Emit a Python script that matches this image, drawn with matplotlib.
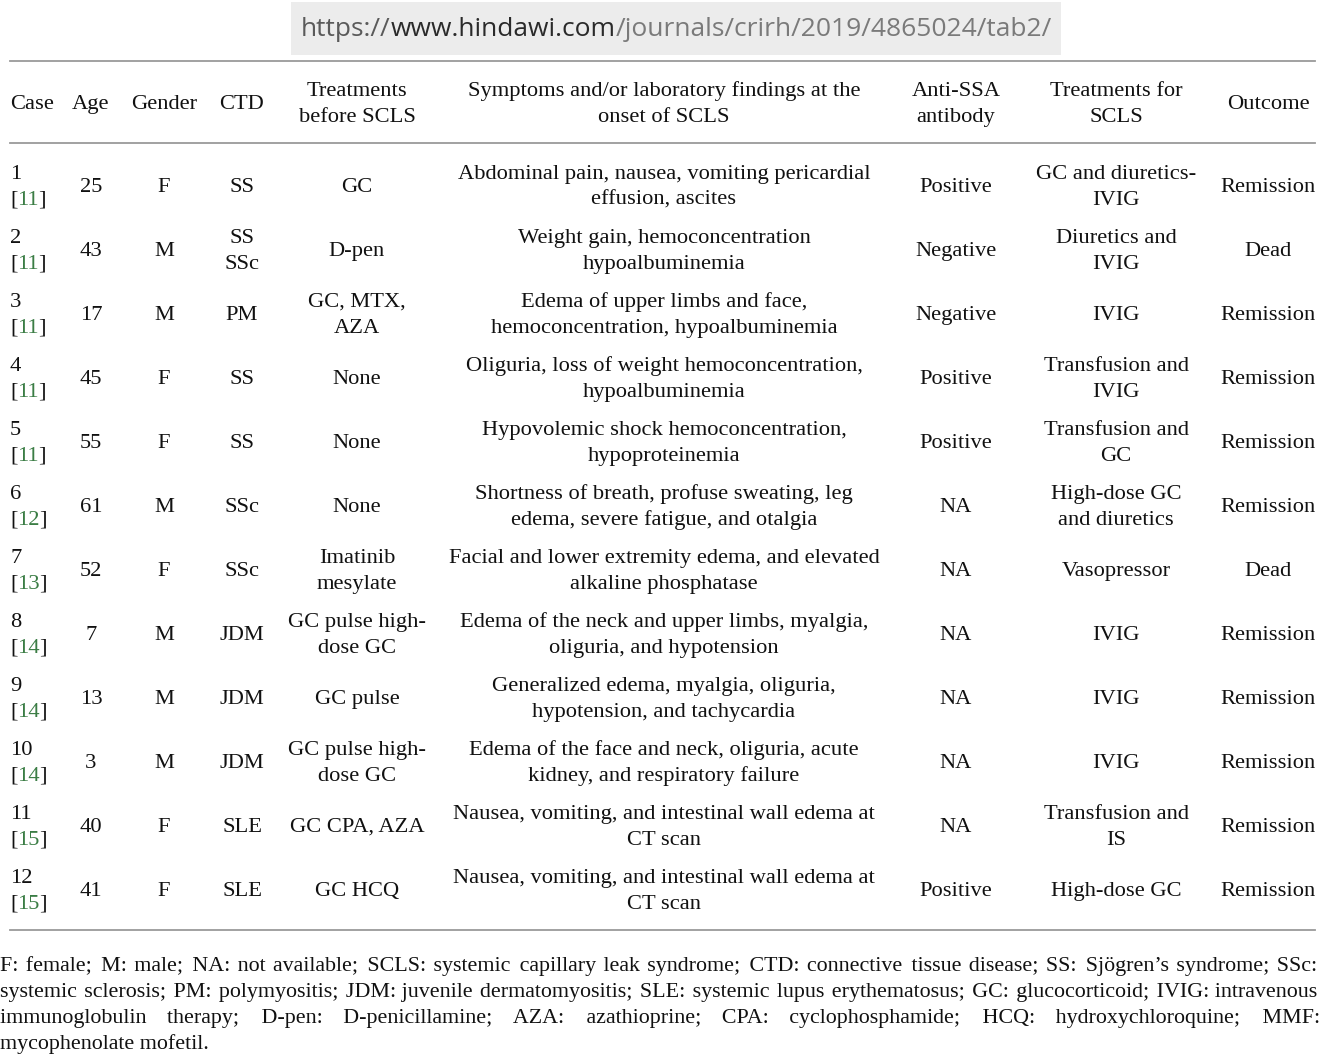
import matplotlib
matplotlib.use("Agg")
import matplotlib.pyplot as plt
from matplotlib.patches import Rectangle

# table data, one list per column
cases = ["1", "2", "3", "4", "5", "6", "7", "8", "9", "10", "11", "12"]
refs = ["11", "11", "11", "11", "11", "12", "13", "14", "14", "14", "15", "15"]
ages = ["25", "43", "17", "45", "55", "61", "52", "7", "13", "3", "40", "41"]
genders = ["F", "M", "M", "F", "F", "M", "F", "M", "M", "M", "F", "F"]
ctds = ["SS", "SS\nSSc", "PM", "SS", "SS", "SSc", "SSc", "JDM", "JDM", "JDM", "SLE", "SLE"]
treat_before = ["GC", "D-pen", "GC, MTX,\nAZA", "None", "None", "None", "Imatinib\nmesylate",
                "GC pulse high-\ndose GC", "GC pulse", "GC pulse high-\ndose GC", "GC CPA, AZA", "GC HCQ"]
symptoms = [
    "Abdominal pain, nausea, vomiting pericardial\neffusion, ascites",
    "Weight gain, hemoconcentration\nhypoalbuminemia",
    "Edema of upper limbs and face,\nhemoconcentration, hypoalbuminemia",
    "Oliguria, loss of weight hemoconcentration,\nhypoalbuminemia",
    "Hypovolemic shock hemoconcentration,\nhypoproteinemia",
    "Shortness of breath, profuse sweating, leg\nedema, severe fatigue, and otalgia",
    "Facial and lower extremity edema, and elevated\nalkaline phosphatase",
    "Edema of the neck and upper limbs, myalgia,\noliguria, and hypotension",
    "Generalized edema, myalgia, oliguria,\nhypotension, and tachycardia",
    "Edema of the face and neck, oliguria, acute\nkidney, and respiratory failure",
    "Nausea, vomiting, and intestinal wall edema at\nCT scan",
    "Nausea, vomiting, and intestinal wall edema at\nCT scan",
]
anti_ssa = ["Positive", "Negative", "Negative", "Positive", "Positive", "NA", "NA", "NA", "NA", "NA",
            "NA", "Positive"]
treat_for = ["GC and diuretics-\nIVIG", "Diuretics and\nIVIG", "IVIG", "Transfusion and\nIVIG",
             "Transfusion and\nGC", "High-dose GC\nand diuretics", "Vasopressor", "IVIG", "IVIG", "IVIG",
             "Transfusion and\nIS", "High-dose GC"]
outcomes = ["Remission", "Dead", "Remission", "Remission", "Remission", "Remission", "Dead",
            "Remission", "Remission", "Remission", "Remission", "Remission"]
headers = ["Case", "Age", "Gender", "CTD", "Treatments\nbefore SCLS",
           "Symptoms and/or laboratory findings at the\nonset of SCLS", "Anti-SSA\nantibody",
           "Treatments for\nSCLS", "Outcome"]
footnote = [
    "F: female; M: male; NA: not available; SCLS: systemic capillary leak syndrome; CTD: connective tissue disease; SS: Sjögren’s syndrome; SSc:",
    "systemic sclerosis; PM: polymyositis; JDM: juvenile dermatomyositis; SLE: systemic lupus erythematosus; GC: glucocorticoid; IVIG: intravenous",
    "immunoglobulin therapy; D-pen: D-penicillamine; AZA: azathioprine; CPA: cyclophosphamide; HCQ: hydroxychloroquine; MMF:",
    "mycophenolate mofetil.",
]
url_parts = [("https://", "#5a5a5a"), ("www.hindawi.com", "#2a2a2a"),
             ("/journals/crirh/2019/4865024/tab2/", "#7a7a7a")]

W, H = 1337, 1064
SERIF = ["Liberation Serif", "DejaVu Serif"]
FS = 16.2
FS_NOTE = 15.8
INK = "#111111"
LINK = "#3b7d45"
RULE = "#9a9a9a"
HAIR = "\u200a"
col_x = [10, 91, 164, 242, 357, 664, 956, 1116, 1268]
row_y0, row_dy, line_dy = 185, 64, 26
base = 7  # baseline sits this far below a line's centre

fig = plt.figure(figsize=(W / 100, H / 100), dpi=100)
ax = fig.add_axes([0, 0, 1, 1])
ax.set_xlim(0, W)
ax.set_ylim(H, 0)
ax.axis("off")
renderer = fig.canvas.get_renderer()


def put(x, y, s, ha="left", color=INK, fs=FS):
    return ax.text(x, y + base, s, ha=ha, va="baseline", family=SERIF, fontsize=fs, color=color)


def cell(x, y, s, ha="center"):
    lines = s.split("\n")
    for i, ln in enumerate(lines):
        put(x, y + (i - (len(lines) - 1) / 2) * line_dy, ln, ha=ha)


def width(t):
    return t.get_window_extent(renderer).width


def str_width(s, fs=FS):
    t = put(500, 500, s, fs=fs)
    w = width(t)
    t.remove()
    return w


# url bar
ax.add_patch(Rectangle((291, 2), 770, 53, color="#ececec", lw=0))
x = 301
for s, c in url_parts:
    t = ax.text(x, 30, s, ha="left", va="center", family="Open Sans", fontsize=19, color=c)
    x += width(t)

# rules
for y in (61, 143, 930):
    ax.plot([10, 1315], [y, y], color=RULE, lw=1.3)

# header
for j, h in enumerate(headers):
    cell(col_x[j], 102, h, ha="left" if j == 0 else "center")

# body
columns = [ages, genders, ctds, treat_before, symptoms, anti_ssa, treat_for, outcomes]
for i in range(len(cases)):
    y = row_y0 + i * row_dy
    put(col_x[0], y - line_dy / 2, cases[i])
    x = col_x[0]
    for part, c in (("[", INK), (refs[i], LINK), ("]", INK)):
        t = put(round(x), y + line_dy / 2, part, color=c)
        x += width(t) - 0.5
    for j, col in enumerate(columns):
        cell(col_x[j + 1], y, col[i])

# justified footnote: each line is one text, gaps padded with hair spaces
left, right = 0, 1318
hair = (str_width("a" + HAIR * 10 + "a", FS_NOTE) - str_width("aa", FS_NOTE)) / 10
for k, line in enumerate(footnote):
    y = 964 + k * 26
    words = line.split(" ")
    if k < len(footnote) - 1 and hair > 0:
        extra = max(0, (right - left) - str_width(line, FS_NOTE))
        per_gap = extra / (len(words) - 1)
        out, used = words[0], 0
        for g, w in enumerate(words[1:], start=1):
            n = int(round(per_gap * g / hair)) - used
            used += n
            out += " " + HAIR * n + w
        line = out
    put(left, y, line, fs=FS_NOTE)

fig.savefig("out.png", dpi=100, facecolor="white")
